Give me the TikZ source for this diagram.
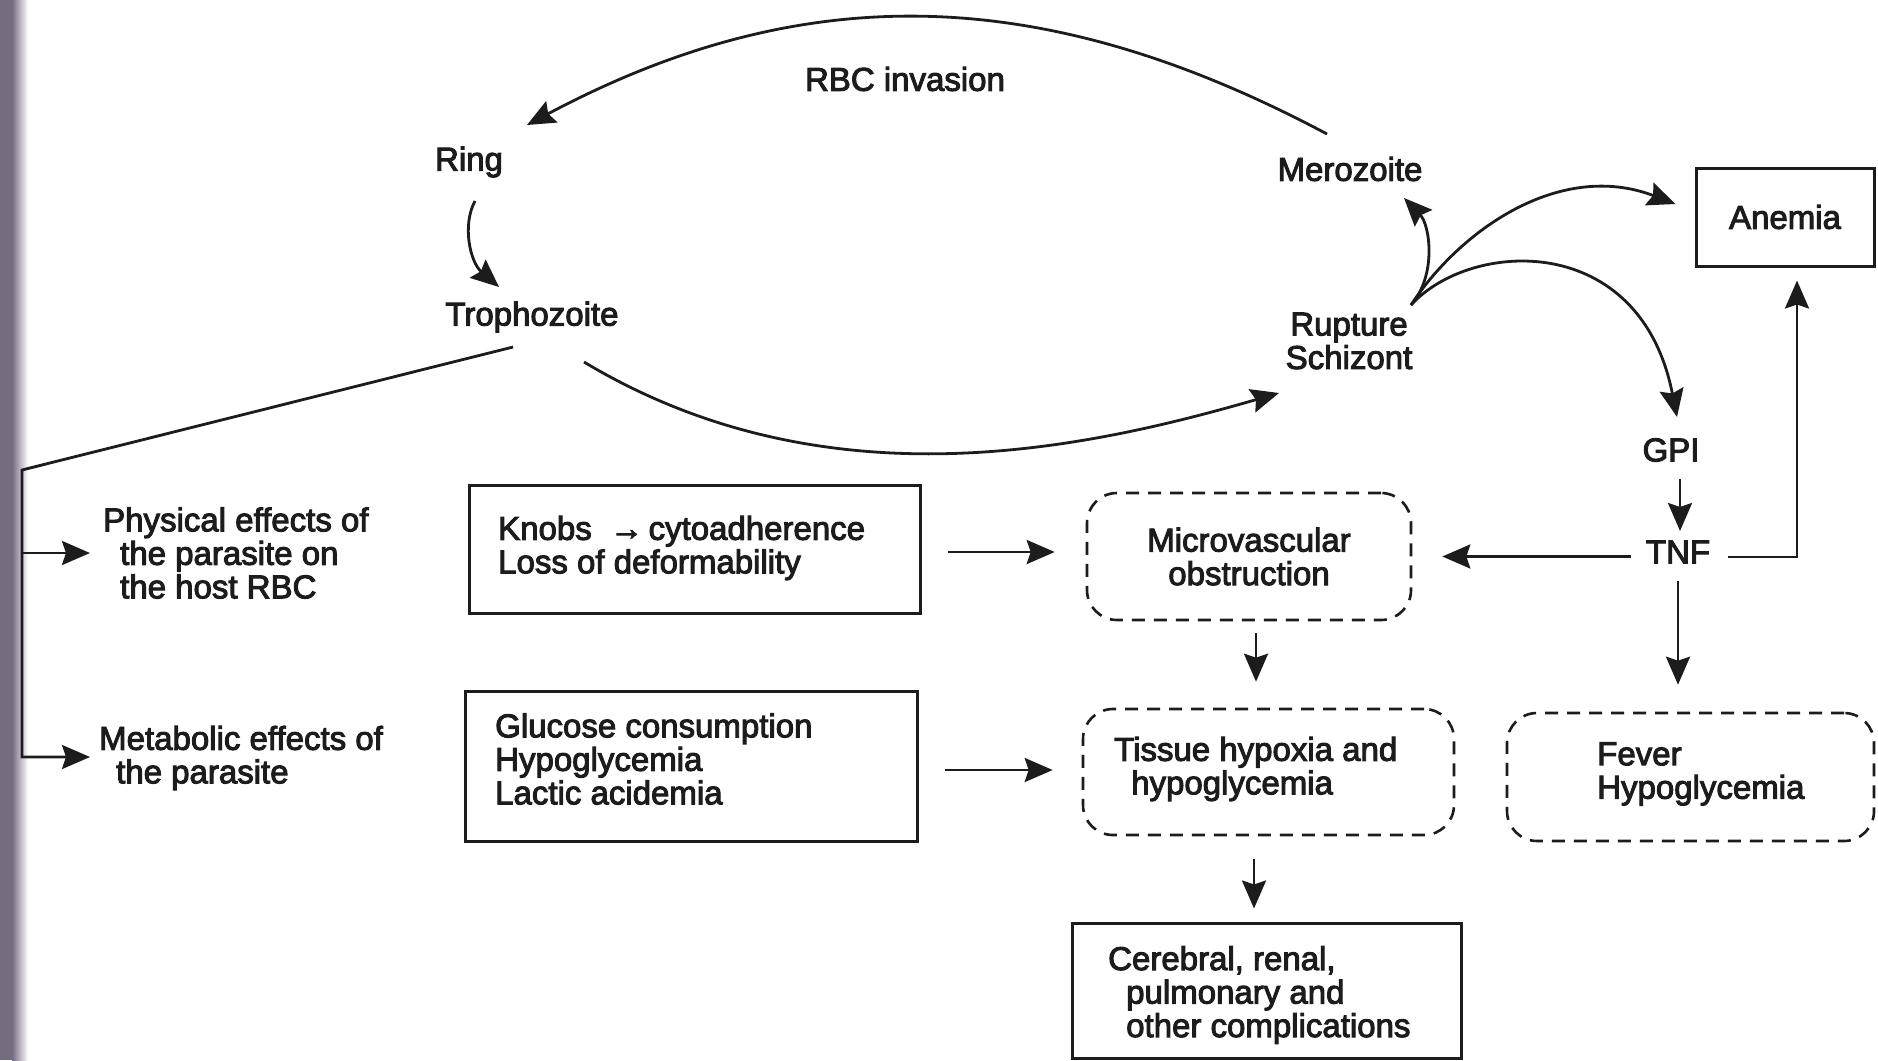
\documentclass[tikz,border=0pt]{standalone}
\usepackage{fontspec}
\setmainfont{Liberation Sans}[BoldFont={Liberation Sans}, BoldFeatures={FakeBold=3}]
\usetikzlibrary{arrows.meta,calc}
\definecolor{ink}{RGB}{28,28,28}
\definecolor{stripcol}{RGB}{118,108,128}
\begin{document}
\begin{tikzpicture}[x=1pt,y=-1pt,
  every node/.style={font=\fontsize{33}{33.5}\selectfont\bfseries, text=ink, inner sep=0pt},
  txt/.style={align=left, anchor=west},
  sbox/.style={draw=ink, line width=3pt},
  dbox/.style={draw=ink, line width=2.6pt, dash pattern=on 13pt off 9pt, rounded corners=30pt},
  plainline/.style={draw=ink, line width=2.8pt},
  conn/.style={plainline, -{Stealth[length=28pt,width=24pt,inset=4pt]}}
]
\useasboundingbox (0,0) rectangle (1878,1060);
\fill[white] (0,0) rectangle (1878,1060);
% scan strip at the left edge
\fill[stripcol] (0,0) rectangle (12,1060);
\shade[left color=stripcol, right color=white] (12,0) rectangle (28,1060);

% cycle labels
\node (rbc) at (905,79) {RBC invasion};
\node (ring) at (469,162) {Ring};
\node (tropho) at (532,317) {Trophozoite};
\node (mero) at (1350,169) {Merozoite};
\node[align=center] (rupt) at (1349,341) {Rupture\\Schizont};
\node (gpi) at (1671,450) {GPI};
\node (tnf) at (1678,552) {TNF};
\node[sbox, minimum width=178, minimum height=98] (anemia) at (1785,217) {Anemia};

% left column
\node[txt] (phys) at (103,553) {Physical effects of\\\hspace*{17pt}the parasite on\\\hspace*{17pt}the host RBC};
\node[txt] (meta) at (99,758) {Metabolic effects of\\\hspace*{17pt}the parasite};

% solid boxes
\node[sbox, minimum width=451, minimum height=128] (knobs) at (694.5,549) {};
\node[txt] (knobsT) at (498,548) {Knobs\ \ →\,cytoadherence\\Loss of deformability};
\node[sbox, minimum width=452, minimum height=150] (gluc) at (691,766) {};
\node[txt] (glucT) at (495,759) {Glucose consumption\\Hypoglycemia\\Lactic acidemia};

% dashed boxes
\node[dbox, minimum width=324, minimum height=127, align=center] (micro) at (1249,556.5) {Microvascular\\obstruction};
\node[dbox, minimum width=371, minimum height=126] (tissue) at (1268.5,772) {};
\node[txt] (tissueT) at (1114,769) {Tissue hypoxia and\\\hspace*{17pt}hypoglycemia};
\node[dbox, minimum width=367, minimum height=128] (fever) at (1690.5,777) {};
\node[txt] (feverT) at (1597,774) {Fever\\Hypoglycemia};

% bottom box
\node[sbox, minimum width=389, minimum height=135] (cereb) at (1266.5,990.5) {};
\node[txt] (cerebT) at (1108,995) {Cerebral, renal,\\\hspace*{18pt}pulmonary and\\\hspace*{18pt}other complications};

% cycle connectors
\draw[conn] ($(mero)+(-23,-35)$) .. controls (1047,-15) and (807,-24) .. ($(ring)+(58,-37)$);
\draw[conn] ($(ring)+(6,39)$) .. controls (462,225) and (470,262) .. ($(tropho)+(-33,-30)$);
\draw[conn] ($(tropho)+(52,45)$) .. controls (824,506) and (1082,450) .. ($(rupt)+(-70,52)$);
\coordinate (burst) at ($(rupt)+(62,-36)$);
\draw[conn] (burst) .. controls (1437,275) and (1430,225) .. ($(mero)+(54,29)$);
\draw[conn] (burst) .. controls (1460,230) and (1560,160) .. ($(anemia.west)+(-19,-13)$);
\draw[conn] (burst) .. controls (1470,240) and (1640,230) .. ($(gpi)+(6,-33)$);

% right side connectors
\draw[conn] ($(gpi)+(9,29)$) -- ($(tnf)+(2,-21)$);
\draw[conn] ($(tnf)+(-47,4.5)$) -- ($(micro.east)+(30,0)$);
\draw[conn] ($(tnf)+(50,5)$) -| ($(anemia.south)+(12,13)$);
\draw[conn] ($(tnf)+(0,29)$) -- ($(fever.north)+(-12.5,-27)$);

% middle connectors
\draw[conn] ($(knobs.east)+(26,3)$) -- ($(micro.west)+(-31,-4.5)$);
\draw[conn] ($(gluc.east)+(26,4)$) -- ($(tissue.west)+(-29,-2)$);
\draw[conn] ($(micro.south)+(7,12)$) -- ($(tissue.north)+(-12.5,-26)$);
\draw[conn] ($(tissue.south)+(-14.5,23)$) -- ($(cereb.north)+(-12.5,-13)$);

% left bracket
\coordinate (bend) at (22,470);
\draw[conn] ($(tropho)+(-19,30)$) -- (bend) |- ($(meta.west)+(-9,-1)$);
\draw[conn] (bend |- phys.west) -- ($(phys.west)+(-13,0)$);
\end{tikzpicture}
\end{document}
